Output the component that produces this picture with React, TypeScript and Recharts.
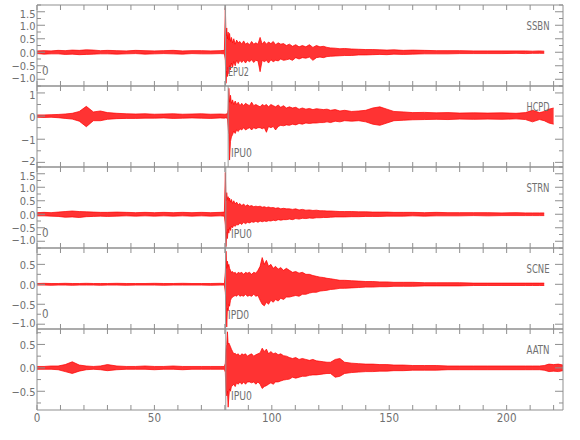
import React from 'react';
import { ComposedChart, Area, XAxis, YAxis, ReferenceLine } from 'recharts';

const FONT = '"Liberation Sans Narrow", "DejaVu Sans Condensed", "Liberation Sans", sans-serif';
const AXIS = '#8f8f8f';
const TEXT = '#707070';
const TRACE = '#ff0000';

// ---------- data ----------
const stations = ['SSBN', 'HCPD', 'STRN', 'SCNE', 'AATN'];
const phases = ['EPU2', 'IPU0', 'IPU0', 'IPD0', 'IPU0'];
const arrivals = [80.3, 81.4, 80.4, 80.3, 80.4];
const xTicks = [0, 10, 20, 30, 40, 50, 60, 70, 80, 90, 100, 110, 120, 130, 140, 150, 160, 170, 180, 190, 200, 210, 220];
const xLabels = [0, 50, 100, 150, 200];

const time = [
  0, 3, 6, 9, 12, 15, 18, 21, 24, 27,
  30, 34, 38, 42, 46, 50, 54, 58, 62, 66,
  70, 74, 78, 79.8, 80.2, 80.5, 80.8, 81.1, 81.4, 81.7,
  82.0, 82.4, 82.8, 83.3, 83.8, 84.4, 85.0, 85.7, 86.4, 87.2,
  88.0, 88.8, 89.6, 90.5, 91.4, 92.3, 93.2, 94.1, 95.0, 95.9,
  96.8, 97.7, 98.6, 99.6, 100.6, 101.6, 102.7, 103.8, 105, 106.2,
  107.5, 108.8, 110.2, 111.6, 113, 114.5, 116, 117.5, 119, 120.5,
  122, 123.5, 125, 127, 129, 131, 134, 137, 140, 143,
  146, 149, 152, 156, 160, 165, 170, 175, 180, 186,
  192, 198, 204, 208, 211, 214, 216, 218, 220, 222, 224,
];

const ssbnHi = [
  0.05, 0.06, 0.05, 0.07, 0.06, 0.08, 0.07, 0.09, 0.08, 0.06,
  0.07, 0.06, 0.05, 0.07, 0.06, 0.05, 0.06, 0.07, 0.05, 0.06,
  0.06, 0.05, 0.06, 0.07, 1.65, 0.6, 0.9, 0.5, 0.75, 0.45,
  0.7, 0.4, 0.55, 0.35, 0.5, 0.3, 0.45, 0.35, 0.4, 0.3,
  0.42, 0.3, 0.35, 0.28, 0.4, 0.3, 0.35, 0.3, 0.55, 0.3,
  0.4, 0.3, 0.38, 0.32, 0.4, 0.28, 0.35, 0.3, 0.32, 0.25,
  0.3, 0.22, 0.28, 0.2, 0.25, 0.2, 0.28, 0.18, 0.25, 0.2,
  0.22, 0.18, 0.16, 0.15, 0.13, 0.14, 0.12, 0.11, 0.1, 0.1,
  0.09, 0.08, 0.09, 0.07, 0.08, 0.07, 0.06, 0.06, 0.06, 0.05,
  0.05, 0.05, 0.05, 0.05, 0.04, 0.05, 0.04, null, null, null, null,
];
const ssbnLo = [
  -0.05, -0.07, -0.06, -0.06, -0.08, -0.07, -0.09, -0.08, -0.07, -0.06,
  -0.06, -0.07, -0.06, -0.05, -0.07, -0.06, -0.05, -0.06, -0.07, -0.05,
  -0.06, -0.06, -0.05, -0.06, -0.3, -1.15, -0.7, -0.9, -0.55, -0.8,
  -0.5, -0.65, -0.4, -0.55, -0.35, -0.5, -0.3, -0.42, -0.3, -0.38,
  -0.3, -0.4, -0.3, -0.35, -0.28, -0.38, -0.3, -0.32, -0.72, -0.3,
  -0.35, -0.3, -0.4, -0.28, -0.35, -0.3, -0.32, -0.25, -0.3, -0.28,
  -0.25, -0.3, -0.2, -0.25, -0.2, -0.22, -0.18, -0.3, -0.2, -0.18,
  -0.2, -0.16, -0.15, -0.14, -0.13, -0.12, -0.12, -0.1, -0.1, -0.09,
  -0.08, -0.09, -0.07, -0.08, -0.07, -0.06, -0.06, -0.06, -0.05, -0.05,
  -0.05, -0.05, -0.04, -0.05, -0.04, -0.04, -0.04, null, null, null, null,
];

const hcpdHi = [
  0.05, 0.05, 0.06, 0.07, 0.09, 0.12, 0.2, 0.42, 0.18, 0.22,
  0.15, 0.12, 0.1, 0.09, 0.1, 0.08, 0.09, 0.1, 0.08, 0.09,
  0.1, 0.08, 0.09, 0.08, 0.08, 0.09, 0.1, 0.08, 0.3, 1.2,
  0.6, 0.9, 0.55, 0.7, 0.5, 0.65, 0.5, 0.6, 0.45, 0.55,
  0.45, 0.55, 0.5, 0.45, 0.6, 0.45, 0.5, 0.45, 0.4, 0.5,
  0.45, 0.5, 0.4, 0.5, 0.45, 0.4, 0.48, 0.38, 0.45, 0.35,
  0.4, 0.35, 0.38, 0.3, 0.35, 0.3, 0.33, 0.28, 0.32, 0.3,
  0.28, 0.3, 0.25, 0.28, 0.22, 0.25, 0.2, 0.22, 0.25, 0.35,
  0.4, 0.3, 0.2, 0.18, 0.15, 0.16, 0.14, 0.15, 0.13, 0.14,
  0.13, 0.14, 0.12, 0.15, 0.25, 0.15, 0.2, 0.3, 0.35, null, null,
];
const hcpdLo = [
  -0.05, -0.06, -0.05, -0.07, -0.1, -0.13, -0.22, -0.46, -0.2, -0.2,
  -0.14, -0.11, -0.1, -0.1, -0.09, -0.09, -0.08, -0.1, -0.09, -0.08,
  -0.09, -0.1, -0.08, -0.09, -0.08, -0.08, -0.09, -0.1, -0.5, -0.8,
  -1.9, -1.1, -0.9, -0.8, -0.65, -0.75, -0.6, -0.67, -0.55, -0.6,
  -0.5, -0.6, -0.55, -0.5, -0.6, -0.5, -0.55, -0.5, -0.5, -0.55,
  -0.5, -0.7, -0.45, -0.5, -0.45, -0.6, -0.45, -0.4, -0.42, -0.38,
  -0.4, -0.35, -0.38, -0.32, -0.35, -0.3, -0.32, -0.3, -0.3, -0.28,
  -0.28, -0.25, -0.28, -0.22, -0.25, -0.2, -0.22, -0.2, -0.25, -0.35,
  -0.4, -0.3, -0.2, -0.18, -0.16, -0.15, -0.14, -0.15, -0.13, -0.14,
  -0.13, -0.14, -0.12, -0.15, -0.25, -0.15, -0.2, -0.3, -0.35, null, null,
];

const strnHi = [
  0.06, 0.07, 0.06, 0.08, 0.1, 0.12, 0.1, 0.09, 0.08, 0.07,
  0.07, 0.08, 0.07, 0.06, 0.07, 0.06, 0.07, 0.06, 0.07, 0.06,
  0.07, 0.06, 0.07, 0.08, 1.55, 0.5, 0.8, 0.55, 0.65, 0.5,
  0.6, 0.45, 0.55, 0.4, 0.5, 0.38, 0.45, 0.35, 0.4, 0.32,
  0.38, 0.3, 0.35, 0.3, 0.32, 0.28, 0.3, 0.28, 0.3, 0.26,
  0.28, 0.25, 0.27, 0.24, 0.25, 0.22, 0.24, 0.2, 0.22, 0.2,
  0.2, 0.18, 0.2, 0.16, 0.18, 0.15, 0.16, 0.14, 0.15, 0.13,
  0.13, 0.12, 0.12, 0.11, 0.1, 0.1, 0.1, 0.09, 0.09, 0.08,
  0.08, 0.08, 0.07, 0.07, 0.07, 0.06, 0.07, 0.06, 0.06, 0.06,
  0.06, 0.05, 0.06, 0.05, 0.05, 0.05, 0.05, null, null, null, null,
];
const strnLo = [
  -0.06, -0.06, -0.07, -0.08, -0.11, -0.1, -0.12, -0.09, -0.08, -0.07,
  -0.08, -0.07, -0.06, -0.07, -0.06, -0.07, -0.06, -0.07, -0.06, -0.07,
  -0.06, -0.07, -0.06, -0.07, -0.4, -1.2, -0.65, -0.9, -0.55, -0.7,
  -0.5, -0.6, -0.45, -0.5, -0.4, -0.45, -0.38, -0.4, -0.32, -0.38,
  -0.3, -0.35, -0.3, -0.32, -0.28, -0.3, -0.26, -0.3, -0.25, -0.28,
  -0.25, -0.27, -0.24, -0.25, -0.22, -0.24, -0.2, -0.22, -0.2, -0.2,
  -0.18, -0.2, -0.16, -0.18, -0.15, -0.16, -0.14, -0.15, -0.13, -0.13,
  -0.12, -0.12, -0.11, -0.1, -0.1, -0.1, -0.09, -0.09, -0.08, -0.08,
  -0.08, -0.07, -0.07, -0.07, -0.06, -0.07, -0.06, -0.06, -0.06, -0.05,
  -0.06, -0.05, -0.05, -0.05, -0.05, -0.05, -0.05, null, null, null, null,
];

const scneHi = [
  0.02, 0.025, 0.02, 0.02, 0.025, 0.02, 0.02, 0.025, 0.02, 0.02,
  0.02, 0.025, 0.02, 0.02, 0.02, 0.025, 0.02, 0.02, 0.025, 0.02,
  0.02, 0.02, 0.025, 0.02, 0.3, 0.83, 0.4, 0.58, 0.45, 0.5,
  0.4, 0.35, 0.3, 0.32, 0.28, 0.3, 0.25, 0.3, 0.28, 0.3,
  0.25, 0.3, 0.28, 0.3, 0.25, 0.3, 0.28, 0.35, 0.45, 0.67,
  0.5, 0.6, 0.45, 0.5, 0.4, 0.45, 0.38, 0.42, 0.35, 0.4,
  0.35, 0.3, 0.32, 0.28, 0.3, 0.25, 0.25, 0.22, 0.2, 0.18,
  0.17, 0.15, 0.14, 0.12, 0.1, 0.1, 0.09, 0.08, 0.07, 0.07,
  0.06, 0.06, 0.05, 0.05, 0.05, 0.04, 0.04, 0.04, 0.04, 0.03,
  0.03, 0.03, 0.03, 0.03, 0.03, 0.03, 0.03, null, null, null, null,
];
const scneLo = [
  -0.02, -0.02, -0.025, -0.02, -0.02, -0.025, -0.02, -0.02, -0.02, -0.025,
  -0.02, -0.02, -0.025, -0.02, -0.02, -0.02, -0.025, -0.02, -0.02, -0.02,
  -0.02, -0.025, -0.02, -0.02, -0.2, -0.5, -1.07, -0.6, -0.67, -0.5,
  -0.55, -0.4, -0.35, -0.32, -0.3, -0.28, -0.3, -0.25, -0.3, -0.28,
  -0.3, -0.25, -0.3, -0.28, -0.3, -0.25, -0.3, -0.28, -0.4, -0.5,
  -0.54, -0.45, -0.5, -0.4, -0.45, -0.38, -0.42, -0.35, -0.38, -0.32,
  -0.32, -0.3, -0.28, -0.3, -0.25, -0.25, -0.22, -0.2, -0.2, -0.17,
  -0.16, -0.15, -0.13, -0.12, -0.1, -0.1, -0.09, -0.08, -0.07, -0.07,
  -0.06, -0.06, -0.05, -0.05, -0.05, -0.04, -0.04, -0.04, -0.04, -0.03,
  -0.03, -0.03, -0.03, -0.03, -0.03, -0.03, -0.03, null, null, null, null,
];

const aatnHi = [
  0.03, 0.03, 0.04, 0.04, 0.07, 0.13, 0.06, 0.04, 0.03, 0.04,
  0.07, 0.04, 0.03, 0.03, 0.04, 0.03, 0.03, 0.04, 0.03, 0.03,
  0.03, 0.03, 0.03, 0.03, 0.1, 0.4, 0.5, 0.77, 0.5, 0.53,
  0.5, 0.45, 0.4, 0.35, 0.3, 0.31, 0.28, 0.3, 0.25, 0.3,
  0.28, 0.3, 0.25, 0.28, 0.3, 0.25, 0.28, 0.3, 0.32, 0.42,
  0.35, 0.4, 0.3, 0.35, 0.3, 0.32, 0.28, 0.3, 0.26, 0.25,
  0.22, 0.2, 0.22, 0.18, 0.2, 0.18, 0.16, 0.18, 0.15, 0.14,
  0.13, 0.12, 0.12, 0.18, 0.2, 0.12, 0.1, 0.09, 0.08, 0.08,
  0.07, 0.07, 0.06, 0.06, 0.05, 0.05, 0.05, 0.04, 0.04, 0.04,
  0.04, 0.04, 0.04, 0.04, 0.04, 0.04, 0.05, 0.08, 0.07, 0.08, 0.06,
];
const aatnLo = [
  -0.03, -0.03, -0.03, -0.04, -0.08, -0.12, -0.07, -0.04, -0.03, -0.04,
  -0.06, -0.04, -0.03, -0.03, -0.03, -0.04, -0.03, -0.03, -0.04, -0.03,
  -0.03, -0.03, -0.03, -0.03, -0.1, -0.5, -0.6, -0.5, -0.84, -0.62,
  -0.45, -0.5, -0.4, -0.38, -0.35, -0.4, -0.32, -0.35, -0.3, -0.35,
  -0.3, -0.35, -0.3, -0.3, -0.32, -0.3, -0.35, -0.3, -0.35, -0.44,
  -0.4, -0.38, -0.35, -0.32, -0.35, -0.3, -0.3, -0.28, -0.26, -0.25,
  -0.24, -0.2, -0.22, -0.2, -0.18, -0.18, -0.16, -0.15, -0.15, -0.14,
  -0.13, -0.12, -0.12, -0.2, -0.18, -0.12, -0.1, -0.09, -0.08, -0.08,
  -0.07, -0.07, -0.06, -0.06, -0.05, -0.05, -0.05, -0.04, -0.04, -0.04,
  -0.04, -0.04, -0.04, -0.04, -0.04, -0.04, -0.05, -0.08, -0.07, -0.08, -0.06,
];

const upper = [ssbnHi, hcpdHi, strnHi, scneHi, aatnHi];
const lower = [ssbnLo, hcpdLo, strnLo, scneLo, aatnLo];

// y-axis ticks per panel
const yDomains: [number, number][] = [[-1.25, 1.75], [-2.2, 1.3], [-1.25, 1.75], [-1.12, 0.91], [-0.9, 0.83]];
const yMajors = [
  [-1, -0.5, 0, 0.5, 1, 1.5],
  [-2, -1, 0, 1],
  [-1, -0.5, 0, 0.5, 1, 1.5],
  [-1, -0.5, 0, 0.5],
  [-0.5, 0, 0.5],
];
const yMinors = [
  [-1.25, -0.75, -0.25, 0.25, 0.75, 1.25, 1.75],
  [-1.5, -0.5, 0.5],
  [-1.25, -0.75, -0.25, 0.25, 0.75, 1.25, 1.75],
  [-0.75, -0.25, 0.25, 0.75],
  [-0.75, -0.25, 0.25, 0.75],
];
const yDecimals = [1, 0, 1, 1, 1];
const zeroMarks = [true, false, true, true, false];

// ---------- layout ----------
const X_MAX = 224;
const PLOT_LEFT = 37;
const PLOT_RIGHT = 563;
const PANEL_TOPS = [5, 86, 167, 248, 329];
const PANEL_H = 81;
const PAD = 10;
const BOTTOM_AXIS_H = 26;
const FS = 11;

const near = (a: number, b: number) => Math.abs(a - b) < 1e-6;
const fmt = (v: number, d: number) => {
  const s = Math.abs(v).toFixed(d);
  return (v < -1e-9 ? '\u2212' : '') + s;
};

const LeftTick = (props: any) => {
  const { x, y, payload, majors, decimals } = props;
  const major = majors.some((m: number) => near(m, payload.value));
  // keep labels that sit close to a panel edge inside it, as the reference does
  const fromTop = y - PAD;
  const fromBottom = PAD + PANEL_H - y;
  const nudge = fromTop < 8 ? 1.5 : fromBottom < 8 ? -1.5 : 0;
  return (
    <g>
      <line x1={x} x2={x + (major ? 8 : 4)} y1={y} y2={y} stroke={AXIS} strokeWidth={1} />
      {major && (
        <text x={x - 1.5} y={y + 1 + nudge} textAnchor="end" dominantBaseline="central" fontFamily={FONT} fontSize={FS} fill={TEXT}>
          {fmt(payload.value, decimals)}
        </text>
      )}
    </g>
  );
};

const RightTick = (props: any) => {
  const { x, y, payload, majors } = props;
  const major = majors.some((m: number) => near(m, payload.value));
  return <line x1={x} x2={x - (major ? 8 : 4)} y1={y} y2={y} stroke={AXIS} strokeWidth={1} />;
};

const BottomTick = (props: any) => {
  const { x, y, payload, showLabel } = props;
  const labeled = showLabel && xLabels.includes(payload.value);
  return (
    <g>
      <line x1={x} x2={x} y1={y} y2={y - 5} stroke={AXIS} strokeWidth={1} />
      {labeled && (
        <text x={x} y={y + 8} textAnchor="middle" dominantBaseline="central" fontFamily={FONT} fontSize={FS + 0.5} fill={TEXT}>
          {payload.value}
        </text>
      )}
    </g>
  );
};

const TopTick = (props: any) => {
  const { x, y } = props;
  return <line x1={x} x2={x} y1={y} y2={y + 5} stroke={AXIS} strokeWidth={1} />;
};

function Panel({ i }: { i: number }) {
  const last = i === stations.length - 1;
  const hi = upper[i];
  const lo = lower[i];
  const data = time.map((t, k) => ({ t, band: hi[k] == null ? null : [lo[k], hi[k]] }));
  const ticks = [...yMajors[i], ...yMinors[i]].sort((a, b) => a - b);
  const bottomH = last ? BOTTOM_AXIS_H : PAD;
  const H = PANEL_H + PAD + bottomH;
  return (
    <div style={{ position: 'absolute', left: 0, top: PANEL_TOPS[i] - PAD, width: 580, height: H }}>
      <ComposedChart width={580} height={H} data={data} margin={{ top: 0, right: 0, bottom: 0, left: 0 }} style={{ overflow: 'visible' }}>
        <XAxis
          xAxisId="b"
          dataKey="t"
          type="number"
          domain={[0, X_MAX]}
          ticks={xTicks}
          interval={0}
          orientation="bottom"
          height={bottomH}
          tickLine={false}
          tickSize={0}
          tickMargin={0}
          axisLine={{ stroke: AXIS }}
          tick={<BottomTick showLabel={last} />}
          allowDataOverflow
        />
        <XAxis
          xAxisId="t"
          dataKey="t"
          type="number"
          domain={[0, X_MAX]}
          ticks={xTicks}
          interval={0}
          orientation="top"
          height={PAD}
          tickLine={false}
          tickSize={0}
          tickMargin={0}
          axisLine={{ stroke: AXIS }}
          tick={<TopTick />}
          allowDataOverflow
        />
        <YAxis
          yAxisId="l"
          type="number"
          domain={yDomains[i]}
          ticks={ticks}
          interval={0}
          orientation="left"
          width={PLOT_LEFT}
          tickLine={false}
          tickSize={0}
          tickMargin={0}
          axisLine={{ stroke: AXIS }}
          tick={<LeftTick majors={yMajors[i]} decimals={yDecimals[i]} />}
          allowDataOverflow
        />
        <YAxis
          yAxisId="r"
          type="number"
          domain={yDomains[i]}
          ticks={ticks}
          interval={0}
          orientation="right"
          width={580 - PLOT_RIGHT}
          tickLine={false}
          tickSize={0}
          tickMargin={0}
          axisLine={{ stroke: AXIS }}
          tick={<RightTick majors={yMajors[i]} />}
          allowDataOverflow
        />
        <ReferenceLine xAxisId="b" yAxisId="l" x={arrivals[i]} stroke="#9a9a9a" strokeWidth={1} />
        <Area
          xAxisId="b"
          yAxisId="l"
          dataKey="band"
          type="linear"
          stroke={TRACE}
          strokeWidth={0.8}
          strokeOpacity={0.9}
          fill={TRACE}
          fillOpacity={0.8}
          dot={false}
          activeDot={false}
          isAnimationActive={false}
        />
      </ComposedChart>
    </div>
  );
}

const phaseX = [228, 231, 231, 228, 231];

export default function App() {
  return (
    <div style={{ position: 'absolute', left: 0, top: 0, width: 580, height: 440, background: '#fff' }}>
      {stations.map((_, i) => (
        <Panel key={i} i={i} />
      ))}
      <svg width={580} height={440} style={{ position: 'absolute', left: 0, top: 0, pointerEvents: 'none' }}>
        {stations.map((s, i) => (
          <text key={'s' + i} x={526.5} y={PANEL_TOPS[i] + 21} textLength={23} lengthAdjust="spacingAndGlyphs" textAnchor="start" dominantBaseline="central" fontFamily={FONT} fontSize={FS + 0.5} fill={TEXT}>
            {s}
          </text>
        ))}
        {phases.map((p, i) => (
          <text key={'p' + i} x={phaseX[i]} y={PANEL_TOPS[i] + 67} textLength={21} lengthAdjust="spacingAndGlyphs" textAnchor="start" dominantBaseline="central" fontFamily={FONT} fontSize={FS + 0.5} fill={TEXT}>
            {p}
          </text>
        ))}
        {zeroMarks.map((z, i) =>
          z ? (
            <text key={'z' + i} x={42} y={PANEL_TOPS[i] + 66} textAnchor="start" dominantBaseline="central" fontFamily={FONT} fontSize={FS + 0.5} fill={TEXT}>
              0
            </text>
          ) : null
        )}
      </svg>
    </div>
  );
}
